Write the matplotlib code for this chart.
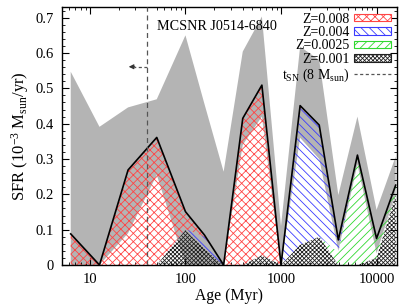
import numpy as np
import matplotlib
matplotlib.use('Agg')
import matplotlib.pyplot as plt
from matplotlib.patches import Patch
from matplotlib.lines import Line2D
from matplotlib.ticker import MultipleLocator, FixedLocator, FixedFormatter, LogLocator, NullFormatter, FormatStrFormatter

plt.rcParams['font.family'] = ['Liberation Serif', 'DejaVu Serif']
plt.rcParams['mathtext.fontset'] = 'custom'
plt.rcParams['mathtext.rm'] = 'Liberation Serif'
plt.rcParams['mathtext.it'] = 'Liberation Serif:italic'
plt.rcParams['hatch.linewidth'] = 0.6

# age bins (Myr)
AGES = [6.3, 12.6, 25.1, 50.1, 100, 158, 251, 398, 631, 1000, 1585, 2512, 3981, 6310, 10000, 15849]
# SFR per metallicity (10^-3 Msun/yr)
Z001 = [0, 0, 0, 0, 0.099, 0.045, 0, 0, 0.028, 0, 0.057, 0.080, 0, 0, 0.020, 0.200]
Z0025 = [0, 0, 0, 0, 0.0, 0, 0, 0, 0, 0, 0, 0, 0.035, 0.310, 0.055, 0.026]
Z004 = [0, 0, 0, 0, 0.003, 0.035, 0, 0, 0, 0, 0.388, 0.316, 0.036, 0.001, 0, 0]
Z008 = [0.088, 0, 0.269, 0.361, 0.049, 0.005, 0, 0.415, 0.481, 0, 0.006, 0, 0, 0, 0, 0]
# error envelope of the total
UPPER = [0.547, 0.391, 0.446, 0.469, 0.650, 0.456, 0.264, 0.604, 0.703, 0.110, 0.618, 0.580, 0.198, 0.420, 0.156, 0.307]
LOWER = [0.0, 0.0, 0.090, 0.255, 0.0, 0.0, 0.0, 0.340, 0.420, 0.0, 0.360, 0.300, 0.040, 0.285, 0.033, 0.203]

T_SN = 40.0
LABELS = ['Z=0.008', 'Z=0.004', 'Z=0.0025', 'Z=0.001']
COLORS = ['#ff4545', '#3a3aff', '#30d830', '#202020']
HATCHES = ['xxxx', '\\\\\\\\', '////', 'xxxxxxxx']

ages = np.array(AGES)
layers = [np.array(Z001), np.array(Z0025), np.array(Z004), np.array(Z008)]
cum = np.cumsum(layers, axis=0)
total = cum[-1]

fig = plt.figure(figsize=(4.07, 3.06), dpi=100)
ax = fig.add_axes([0.152, 0.134, 0.823, 0.843])

ax.fill_between(ages, LOWER, UPPER, facecolor='#b4b4b4', edgecolor='none', zorder=1)

bottoms = np.vstack([np.zeros_like(total), cum[:-1]])
# draw from bottom (Z=0.001) to top (Z=0.008)
for i, (col, hat) in enumerate(zip(COLORS[::-1], HATCHES[::-1])):
    ax.fill_between(ages, bottoms[i], cum[i], facecolor='none', edgecolor=col,
                    hatch=hat, linewidth=0, zorder=2)

ax.plot(ages, total, color='black', lw=1.2, zorder=3)

ax.axvline(T_SN, color='#555555', lw=0.9, ls=(0, (4, 3)), zorder=4)
ax.plot([T_SN, 29], [0.561, 0.561], color='#555555', lw=0.9, ls=(0, (2.5, 2)), zorder=4)
ax.annotate('', xy=(25.5, 0.561), xytext=(29.5, 0.561),
            arrowprops=dict(arrowstyle='-|>', color='#333333', lw=0.8,
                            mutation_scale=7, shrinkA=0, shrinkB=0), zorder=4)
ax.text(49.9, 0.674, 'MCSNR J0514-6840', fontsize=10.2, va='center', ha='left', zorder=5)

ax.set_xscale('log')
ax.set_xlim(5.09, 16300)
ax.set_ylim(0, 0.73)
ax.xaxis.set_major_locator(FixedLocator([10, 100, 1000, 10000]))
ax.xaxis.set_major_formatter(FixedFormatter(['10', '100', '1000', '10000']))
ax.xaxis.set_minor_locator(LogLocator(base=10, subs=np.arange(2, 10)))
ax.xaxis.set_minor_formatter(NullFormatter())
ax.yaxis.set_major_locator(MultipleLocator(0.1))
ax.yaxis.set_minor_locator(MultipleLocator(0.02))
ax.yaxis.set_major_formatter(FormatStrFormatter('%g'))
ax.tick_params(which='both', direction='in', top=True, right=True, labelsize=10.5)
ax.tick_params(which='major', length=5, width=0.8, pad=6)
ax.tick_params(which='minor', length=2.5, width=0.6)
for sp in ax.spines.values():
    sp.set_linewidth(1.0)

ax.set_xlabel('Age (Myr)', fontsize=11.3, labelpad=1)
ax.set_ylabel('SFR (10$^{-3}$ M$_{\\rm sun}$/yr)', fontsize=12, labelpad=3)

handles = [Patch(facecolor='white', edgecolor=c, hatch=h, lw=0.8) for c, h in zip(COLORS, HATCHES)]
handles.append(Line2D([], [], color='#555555', lw=0.9, ls=(0, (2.5, 2))))
leg = ax.legend(handles, LABELS + ['t$_{\\rm SN}$ (8 M$_{\\rm sun}$)'], loc='upper right',
                frameon=False, markerfirst=False, fontsize=10, handlelength=2.65,
                handleheight=0.45, labelspacing=0.03, borderaxespad=0.1,
                borderpad=0.3, handletextpad=0.35)
leg.set_zorder(6)

fig.savefig('out.png', dpi=100)
